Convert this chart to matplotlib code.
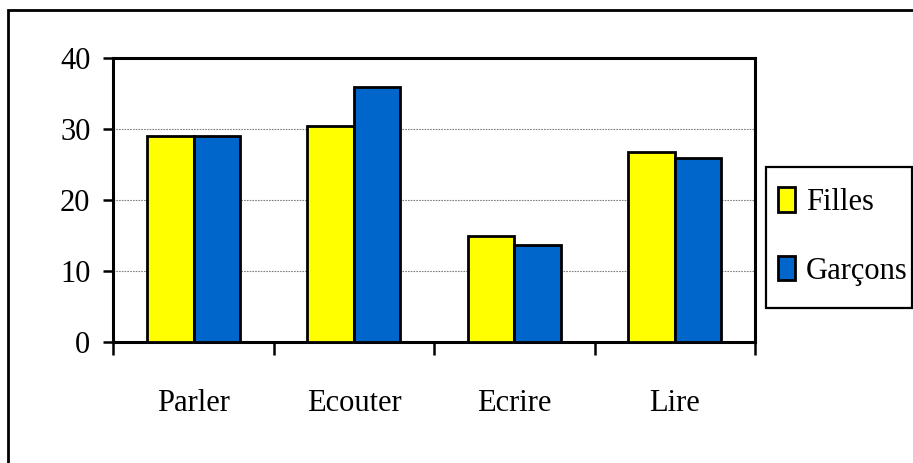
import matplotlib
matplotlib.use("Agg")
import matplotlib.pyplot as plt
import numpy as np
from matplotlib.patches import Rectangle

categories = ["Parler", "Ecouter", "Ecrire", "Lire"]
filles = [29.0, 30.4, 14.9, 26.8]
garcons = [29.0, 35.9, 13.6, 25.9]
series_names = ["Filles", "Garçons"]
yticks = [0, 10, 20, 30, 40]

plt.rcParams['font.family'] = ['Liberation Serif', 'DejaVu Serif']

W, H = 913, 463
fig = plt.figure(figsize=(W/100, H/100), dpi=100)
ax = fig.add_axes([113.3/W, 1-341.7/H, (755-113.3)/W, (341.7-58.3)/H])

x = np.arange(len(categories))
bw = 0.29
ax.bar(x - bw/2, filles, bw, color="#FFFF00", edgecolor="black", linewidth=2.0, label=series_names[0], zorder=3)
ax.bar(x + bw/2, garcons, bw, color="#0066CC", edgecolor="black", linewidth=2.0, label=series_names[1], zorder=3)

ax.set_xlim(-0.5, len(categories)-0.5)
ax.set_ylim(0, 40)
ax.set_yticks(yticks)
ax.set_yticklabels([str(v) for v in yticks], fontsize=22)
ax.tick_params(axis='y', direction='out', length=7.5, width=1.8, pad=9)

ax.set_xticks(x)
ax.set_xticklabels(categories, fontsize=22)
ax.tick_params(axis='x', which='major', length=0, pad=34)
ax.set_xticks(np.arange(-0.5, len(categories)), minor=True)
ax.tick_params(axis='x', which='minor', direction='out', length=9, width=1.8)

for v in yticks[1:-1]:
    ax.axhline(v, color="#808080", linestyle=(0, (1.5, 1)), linewidth=0.8, zorder=1)

for s in ax.spines.values():
    s.set_color("black")
    s.set_linewidth(2.2)

leg = fig.legend(loc="center left", bbox_to_anchor=(778/W, 1-236.5/H), bbox_transform=fig.transFigure,
                 borderaxespad=0, fontsize=22, frameon=False,
                 handlelength=0.57, handleheight=0.87, handletextpad=0.35,
                 labelspacing=1.25, borderpad=0)

fig.patches.append(Rectangle((766/W, 1-308/H), (912-766)/W, (308-167)/H, transform=fig.transFigure,
                             fill=False, edgecolor="black", linewidth=1.6, zorder=5))

fig.patches.append(Rectangle((8/W, -0.1), 1.2, (1-9.5/H)+0.1, transform=fig.transFigure,
                             fill=False, edgecolor="black", linewidth=2.0, zorder=0))

fig.savefig("out.png", dpi=100)
